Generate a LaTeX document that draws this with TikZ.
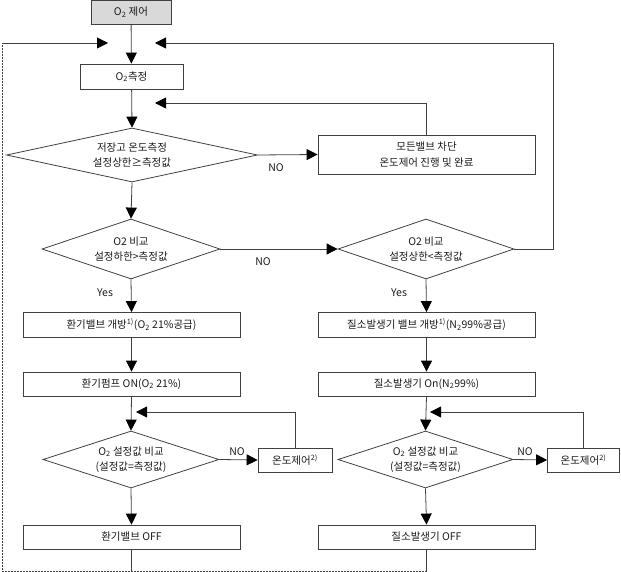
\documentclass[tikz,border=0pt]{standalone}
\usepackage{fontspec}
\setmainfont{Noto Sans CJK KR}
\usetikzlibrary{shapes.geometric,arrows.meta}
\definecolor{linec}{HTML}{404040}
\definecolor{txtc}{HTML}{1A1A1A}
\definecolor{topfill}{HTML}{D9D9D9}
\newcommand\subtwo{\textsubscript{2}}
\newcommand\supnote[1]{\textsuperscript{#1)}}
\begin{document}
\begin{tikzpicture}[x=1pt,y=-1pt,line width=0.8pt,
  txt/.style={font=\fontsize{10.5}{15.5}\selectfont,text=txtc},
  box/.style={txt,draw=linec,rectangle,inner sep=0pt,align=center},
  dia/.style={txt,draw=linec,diamond,inner sep=0pt,align=center},
  arr/.style={draw=linec,-{Triangle[length=11pt,width=11pt,color=black]}},
  conn/.style={draw=linec},
  lbl/.style={txt,inner sep=0pt}]
\useasboundingbox (0,0) rectangle (621,572);
% nodes
\node[box,fill=topfill,minimum width=80pt,minimum height=24pt] (top) at (131,12) {O\subtwo{} 제어};
\node[box,minimum width=103pt,minimum height=25pt] (meas) at (131.5,76.5) {O\subtwo 측정};
\node[dia,minimum width=251pt,minimum height=54pt,aspect=4.65] (d1) at (132,155) {저장고 온도측정\\설정상한≥측정값};
\node[box,minimum width=217pt,minimum height=39pt] (allv) at (426.5,154.5) {모든밸브 차단\\온도제어 진행 및 완료};
\node[dia,minimum width=178pt,minimum height=60pt,aspect=2.97] (dA) at (131,249) {O2 비교\\설정하한>측정값};
\node[dia,minimum width=176pt,minimum height=60pt,aspect=2.93] (dB) at (426,249) {O2 비교\\설정상한<측정값};
\node[box,minimum width=217pt,minimum height=25pt] (vA1) at (131.5,325) {환기밸브 개방\supnote{1}(O\subtwo{} 21\%공급)};
\node[box,minimum width=217pt,minimum height=25pt] (vB1) at (426.5,325) {질소발생기 밸브 개방\supnote{1}(N\subtwo 99\%공급)};
\node[box,minimum width=217pt,minimum height=24pt] (vA2) at (131.5,384) {환기펌프 ON(O\subtwo{} 21\%)};
\node[box,minimum width=217pt,minimum height=24pt] (vB2) at (426.5,384) {질소발생기 On(N\subtwo 99\%)};
\node[dia,minimum width=176pt,minimum height=57pt,aspect=3.09] (dC) at (131,459.5) {O\subtwo{} 설정값 비교\\(설정값=측정값)};
\node[dia,minimum width=175pt,minimum height=57pt,aspect=3.07] (dD) at (425.5,459.5) {O\subtwo{} 설정값 비교\\(설정값=측정값)};
\node[box,minimum width=74pt,minimum height=24pt] (tA) at (295,460) {온도제어\supnote{2}};
\node[box,minimum width=72pt,minimum height=24pt] (tB) at (583.5,460) {온도제어\supnote{2}};
\node[box,minimum width=217pt,minimum height=24pt] (oA) at (131.5,537) {환기밸브 OFF};
\node[box,minimum width=217pt,minimum height=24pt] (oB) at (426.5,537) {질소발생기 OFF};
% labels
\node[lbl] (no1) at (276,168) {NO};
\node[lbl] (no2) at (263,262) {NO};
\node[lbl] (yes1) at (105,293) {Yes};
\node[lbl] (yes2) at (399,293) {Yes};
\node[lbl] (no3) at (237,452) {NO};
\node[lbl] (no4) at (525,452) {NO};
% coordinates
\coordinate (tipL) at (108,43);
\coordinate (tipR) at (155,43);
\coordinate (rloop) at (553,43);
\coordinate (tipM) at (155,103);
\coordinate (tipC) at (136,412);
\coordinate (tipD) at (430,412);
\coordinate (botA) at (131.5,571);
\coordinate (botB) at (426.5,571);
\coordinate (cornerBL) at (2,571);
\coordinate (cornerTL) at (2,43);
% connectors
\draw[arr] (top) -- (meas);
\draw[arr] (meas) -- (d1.north);
\draw[arr] (d1.east) -- (allv.west);
\draw[arr] (allv.north) |- (tipM);
\draw[arr] (d1.south) -- (dA.north);
\draw[arr] (dA.east) -- (dB.west);
\draw[arr] (dB.east) -| (rloop) -- (tipR);
\draw[arr] (dA.south) -- (vA1.north);
\draw[arr] (dB.south) -- (vB1.north);
\draw[arr] (vA1) -- (vA2);
\draw[arr] (vB1) -- (vB2);
\draw[arr] (vA2.south) -- (dC.north);
\draw[arr] (vB2.south) -- (dD.north);
\draw[arr] (dC.east) -- (tA.west);
\draw[arr] (dD.east) -- (tB.west);
\draw[arr] (tA.north) |- (tipC);
\draw[arr] (tB.north) |- (tipD);
\draw[arr] (dC.south) -- (oA.north);
\draw[arr] (dD.south) -- (oB.north);
\draw[conn] (oA.south) -- (botA);
\draw[conn] (oB.south) -- (botB);
\draw[conn,dash pattern=on 2pt off 1pt] (botB) -- (cornerBL) -- (cornerTL);
\draw[arr] (cornerTL) -- (tipL);
\end{tikzpicture}
\end{document}
